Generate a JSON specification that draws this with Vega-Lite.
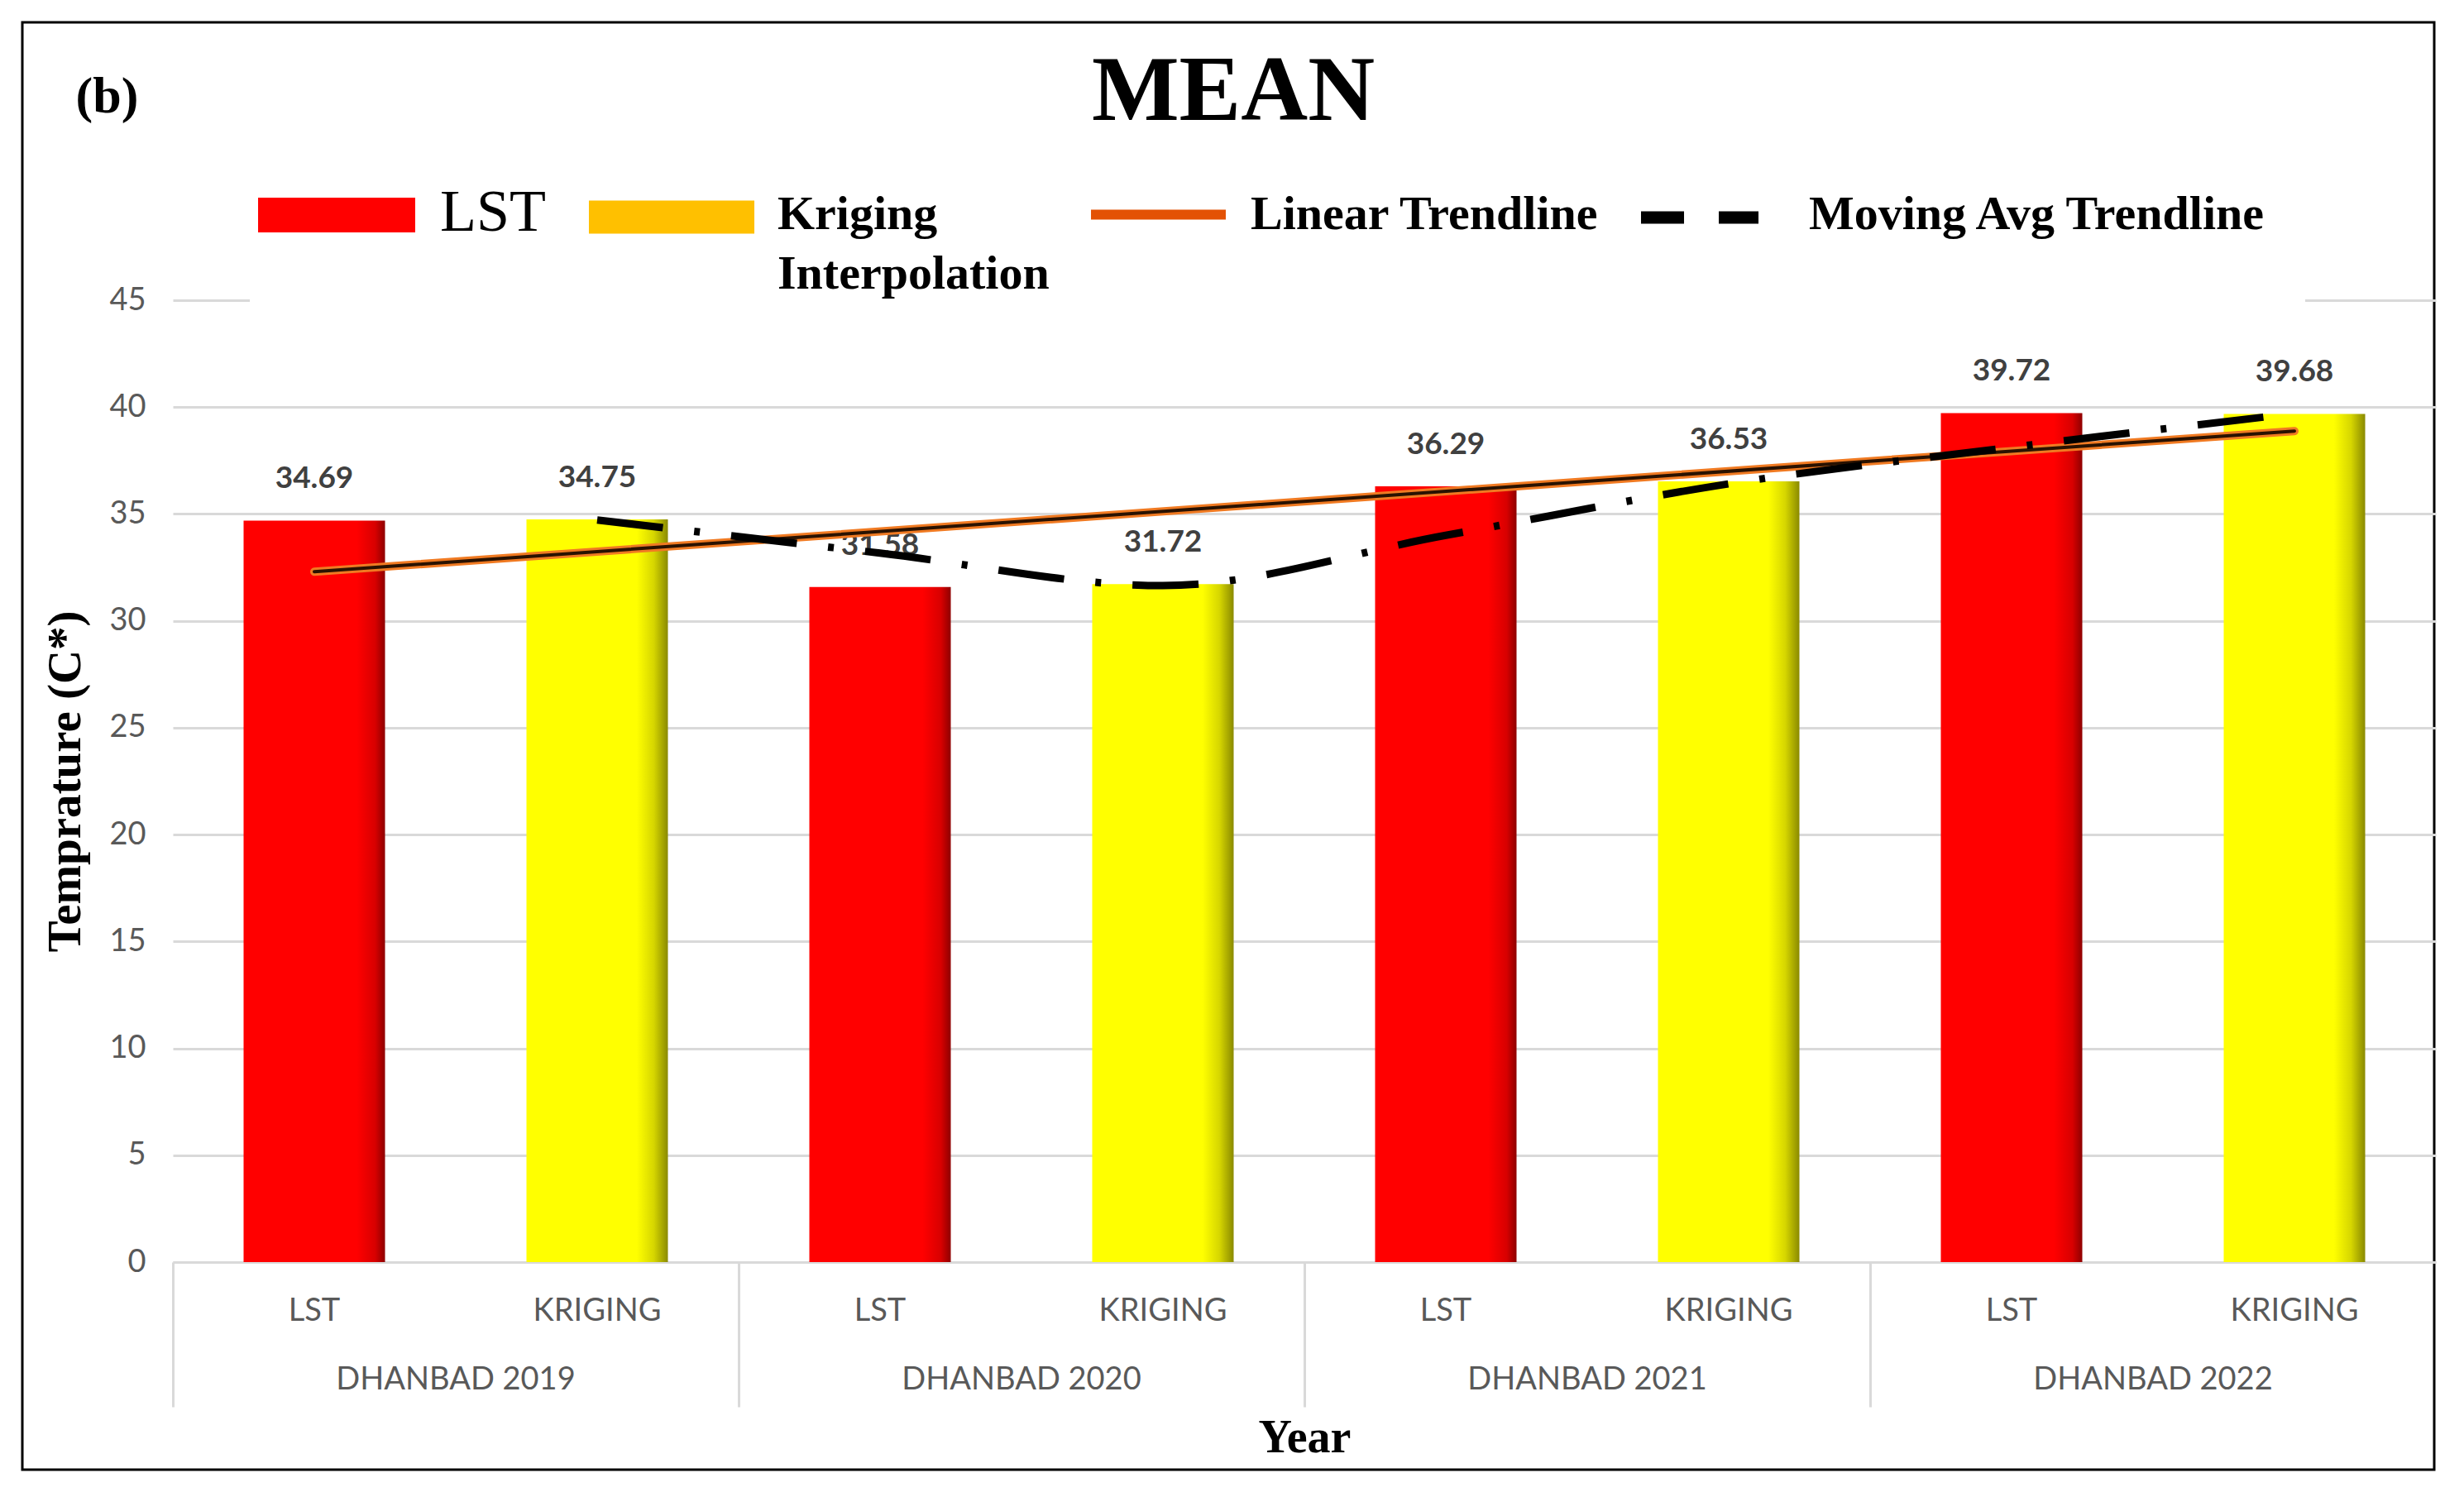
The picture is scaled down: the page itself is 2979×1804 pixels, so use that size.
{
  "$schema": "https://vega.github.io/schema/vega-lite/v6.json",
  "width": 2916,
  "height": 1750,
  "autosize": {"type": "none"},
  "padding": {"left": 27, "top": 27, "right": 36, "bottom": 27},
  "background": "white",
  "title": {"text": "MEAN", "font": "Liberation Serif", "fontSize": 112, "fontWeight": "bold", "color": "black", "anchor": "middle", "frame": "group", "baseline": "alphabetic", "offset": -117, "dx": 6, "dy": 113},
  "datasets": {
    "bars": [
      {"i": 1, "group": "DHANBAD 2019", "type": "LST", "cat": "DHANBAD 2019 LST", "value": 34.69},
      {"i": 2, "group": "DHANBAD 2019", "type": "KRIGING", "cat": "DHANBAD 2019 KRIGING", "value": 34.75},
      {"i": 3, "group": "DHANBAD 2020", "type": "LST", "cat": "DHANBAD 2020 LST", "value": 31.58},
      {"i": 4, "group": "DHANBAD 2020", "type": "KRIGING", "cat": "DHANBAD 2020 KRIGING", "value": 31.72},
      {"i": 5, "group": "DHANBAD 2021", "type": "LST", "cat": "DHANBAD 2021 LST", "value": 36.29},
      {"i": 6, "group": "DHANBAD 2021", "type": "KRIGING", "cat": "DHANBAD 2021 KRIGING", "value": 36.53},
      {"i": 7, "group": "DHANBAD 2022", "type": "LST", "cat": "DHANBAD 2022 LST", "value": 39.72},
      {"i": 8, "group": "DHANBAD 2022", "type": "KRIGING", "cat": "DHANBAD 2022 KRIGING", "value": 39.68}
    ],
    "trend": [
      {"i": 1, "cat": "DHANBAD 2019 LST", "t": 32.3},
      {"i": 2, "cat": "DHANBAD 2022 KRIGING", "t": 38.88}
    ],
    "ma": [
      {"i": 1, "cat": "DHANBAD 2019 KRIGING", "ma": 34.72},
      {"i": 2, "cat": "DHANBAD 2020 LST", "ma": 33.17},
      {"i": 3, "cat": "DHANBAD 2020 KRIGING", "ma": 31.65},
      {"i": 4, "cat": "DHANBAD 2021 LST", "ma": 34.0},
      {"i": 5, "cat": "DHANBAD 2021 KRIGING", "ma": 36.41},
      {"i": 6, "cat": "DHANBAD 2022 LST", "ma": 38.12},
      {"i": 7, "cat": "DHANBAD 2022 KRIGING", "ma": 39.7}
    ],
    "legend": [
      {"key": "LST"},
      {"key": "Kriging Interpolation"},
      {"key": "Linear Trendline"},
      {"key": "Moving Avg Trendline"}
    ]
  },
  "layer": [
    {
      "data": {"name": "bars"},
      "transform": [{"filter": "datum.type === 'LST'"}],
      "mark": {"type": "bar", "width": {"band": 0.5}, "color": {"gradient": "linear", "x1": 0, "y1": 0, "x2": 1, "y2": 0, "stops": [{"offset": 0, "color": "#FF0000"}, {"offset": 0.8, "color": "#FF0000"}, {"offset": 0.93, "color": "#D80000"}, {"offset": 1, "color": "#8E0000"}]}},
      "encoding": {
        "x": {"field": "cat", "type": "nominal", "sort": null,
          "scale": {"domain": ["DHANBAD 2019 LST", "DHANBAD 2019 KRIGING", "DHANBAD 2020 LST", "DHANBAD 2020 KRIGING", "DHANBAD 2021 LST", "DHANBAD 2021 KRIGING", "DHANBAD 2022 LST", "DHANBAD 2022 KRIGING"], "range": [182, 2918], "paddingInner": 0, "paddingOuter": 0},
          "axis": {"orient": "bottom", "offset": -251, "title": null, "labelExpr": "indexof(datum.value, 'KRIGING') >= 0 ? 'KRIGING' : 'LST'", "labelAngle": 0, "labelFont": "Lato", "labelFontSize": 38, "labelColor": "#595959", "labelPadding": 40, "ticks": false, "domain": true, "domainColor": "#D9D9D9", "domainWidth": 3, "grid": false, "labelOverlap": false}},
        "y": {"field": "value", "type": "quantitative",
          "scale": {"domain": [0, 45], "range": [1499, 336], "nice": false, "zero": false},
          "axis": {"orient": "left", "offset": -182, "values": [0, 5, 10, 15, 20, 25, 30, 35, 40, 45], "grid": true, "gridColor": "#D9D9D9", "gridWidth": 3, "ticks": false, "domain": false, "labelFont": "Lato", "labelFontSize": 38, "labelColor": "#595959", "labelPadding": 33, "title": "Temprature (C*)", "titleFont": "Liberation Serif", "titleFontSize": 57, "titleFontWeight": "bold", "titleColor": "black", "titleX": -113, "titleY": 917.5, "titleAngle": -90, "titleBaseline": "alphabetic", "titleAlign": "center"}}
      }
    },
    {
      "data": {"name": "bars"},
      "transform": [{"filter": "datum.type === 'KRIGING'"}],
      "mark": {"type": "bar", "width": {"band": 0.5}, "color": {"gradient": "linear", "x1": 0, "y1": 0, "x2": 1, "y2": 0, "stops": [{"offset": 0, "color": "#FFFF00"}, {"offset": 0.78, "color": "#FFFF00"}, {"offset": 0.9, "color": "#D6D600"}, {"offset": 1, "color": "#8A8A00"}]}},
      "encoding": {
        "x": {"field": "cat", "type": "nominal", "sort": null,
          "axis": {"orient": "bottom", "offset": -251, "values": ["DHANBAD 2019 LST", "DHANBAD 2020 LST", "DHANBAD 2021 LST", "DHANBAD 2022 LST"], "bandPosition": 0, "ticks": true, "tickSize": 175, "tickColor": "#D9D9D9", "tickWidth": 3, "domain": false, "grid": false, "labelExpr": "replace(datum.value, ' LST', '')", "labelOffset": 171, "labelLimit": 1000, "labelPadding": -52, "labelAngle": 0, "labelFont": "Lato", "labelFontSize": 38, "labelColor": "#595959", "labelOverlap": false, "title": "Year", "titleFont": "Liberation Serif", "titleFontSize": 56, "titleFontWeight": "bold", "titleColor": "black", "titleY": 229, "titleBaseline": "alphabetic"}},
        "y": {"field": "value", "type": "quantitative",
          "axis": {"orient": "left", "labels": false, "ticks": false, "domain": false, "grid": false, "title": "(b)", "titleFont": "Liberation Serif", "titleFontSize": 62, "titleFontWeight": "bold", "titleColor": "black", "titleAngle": 0, "titleAlign": "left", "titleBaseline": "alphabetic", "titleX": 64, "titleY": 108}}
      }
    },
    {
      "data": {"name": "bars"},
      "mark": {"type": "text", "baseline": "middle", "align": "center", "dy": -50, "font": "Lato", "fontSize": 37, "fontWeight": "bold", "color": "#404040"},
      "encoding": {
        "x": {"field": "cat", "type": "nominal", "sort": null, "axis": null},
        "y": {"field": "value", "type": "quantitative", "axis": null},
        "text": {"field": "value", "type": "quantitative", "format": ".2f"}
      }
    },
    {
      "data": {"name": "trend"},
      "mark": {"type": "line", "color": "#F07A22", "strokeWidth": 10, "strokeCap": "round"},
      "encoding": {
        "x": {"field": "cat", "type": "nominal", "sort": null, "axis": null},
        "y": {"field": "t", "type": "quantitative", "axis": null},
        "order": {"field": "i", "type": "quantitative"}
      }
    },
    {
      "data": {"name": "trend"},
      "mark": {"type": "line", "color": "#2A1200", "strokeWidth": 4, "strokeCap": "round"},
      "encoding": {
        "x": {"field": "cat", "type": "nominal", "sort": null, "axis": null},
        "y": {"field": "t", "type": "quantitative", "axis": null},
        "order": {"field": "i", "type": "quantitative"}
      }
    },
    {
      "data": {"name": "ma"},
      "mark": {"type": "line", "color": "black", "strokeWidth": 9, "strokeDash": [80, 38, 7, 38], "interpolate": "monotone"},
      "encoding": {
        "x": {"field": "cat", "type": "nominal", "sort": null, "axis": null},
        "y": {"field": "ma", "type": "quantitative", "axis": null},
        "order": {"field": "i", "type": "quantitative"}
      }
    },
    {
      "data": {"name": "legend"},
      "mark": {"type": "point", "filled": true, "opacity": 0},
      "encoding": {
        "color": {"field": "key", "type": "nominal", "sort": null,
          "scale": {"domain": ["LST", "Kriging Interpolation", "Linear Trendline", "Moving Avg Trendline"], "range": ["#FF0000", "#FFC000", "#E35205", "#000000"]},
          "legend": {
            "orient": "none", "legendX": 275, "legendY": 134, "direction": "horizontal", "title": null,
            "padding": 45, "fillColor": "white", "symbolSize": 14400, "symbolStrokeWidth": 0, "symbolOpacity": 1,
            "labelOffset": 65, "columnPadding": 50, "labelFont": "Liberation Serif", "labelFontSize": 58, "labelFontWeight": "bold", "labelColor": "black", "labelLimit": 2000,
            "labelExpr": "datum.value === 'Kriging Interpolation' ? ['Kriging', 'Interpolation'] : (datum.value === 'LST' ? ['LST\u00a0\u00a0', ''] : [datum.label, ''])",
            "encode": {
              "symbols": {"update": {
                "shape": {"signal": "datum.value === 'LST' ? 'M-1.583,-0.45H1.583V0.25H-1.583Z' : datum.value === 'Kriging Interpolation' ? 'M-1.717,-0.467H1.617V0.2H-1.717Z' : datum.value === 'Linear Trendline' ? 'M-1.133,-0.283H1.583V-0.083H-1.133Z' : 'M-1.3,-0.25H-0.433V0H-1.3Z M0.267,-0.25H1.067V0H0.267Z'"},
                "opacity": {"value": 1}, "fillOpacity": {"value": 1}, "size": {"value": 14400}, "strokeWidth": {"value": 0}
              }},
              "labels": {"update": {
                "fontSize": {"signal": "datum.value === 'LST' ? 72 : 58"},
                "fontWeight": {"signal": "datum.value === 'LST' ? 'normal' : 'bold'"},
                "baseline": {"value": "top"},
                "dy": {"signal": "datum.value === 'LST' ? -44 : -40"},
                "lineHeight": {"value": 72}
              }}
            }
          }}
      }
    }
  ],
  "resolve": {"axis": {"x": "independent", "y": "independent"}},
  "config": {"view": {"stroke": "black", "strokeWidth": 3}, "font": "Lato"}
}
